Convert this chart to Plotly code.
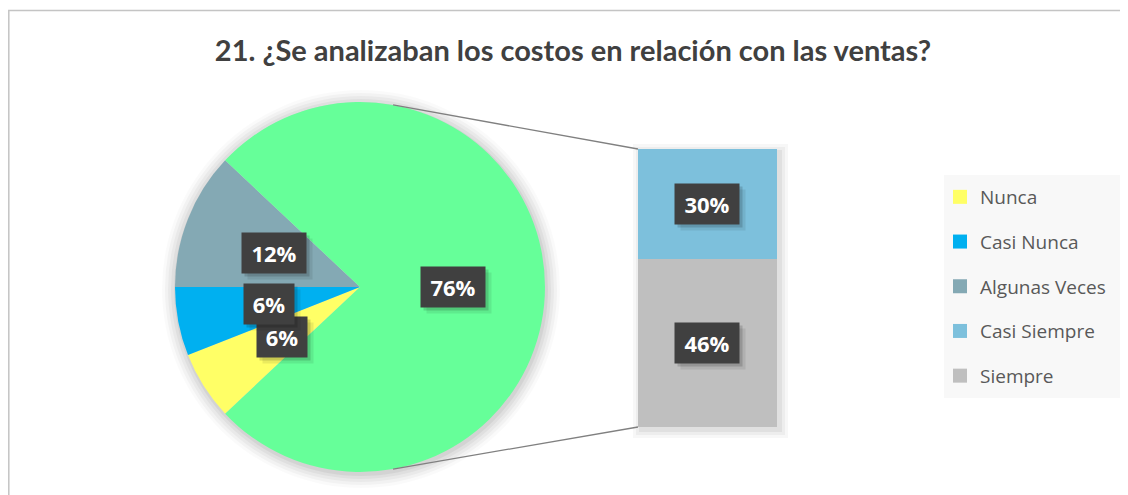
import math
import plotly.graph_objects as go

# ---------------- data ----------------
title_text = "21. ¿Se analizaban los costos en relación con las ventas?"
pie_labels = ["Nunca", "Casi Nunca", "Algunas Veces", "Otro"]
pie_values = [6, 6, 12, 76]
pie_colors = ["#FFFF66", "#00B0F0", "#84A9B4", "#66FF99"]

bar_labels = ["Siempre", "Casi Siempre"]          # bottom -> top
bar_values = [46, 30]
bar_colors = ["#BFBFBF", "#7DC0DC"]

legend_labels = ["Nunca", "Casi Nunca", "Algunas Veces", "Casi Siempre", "Siempre"]
legend_colors = ["#FFFF66", "#00B0F0", "#84A9B4", "#7DC0DC", "#BFBFBF"]

# ---------------- layout geometry (page px) ----------------
PAGE_W, PAGE_H = 1128, 495
OFF = 8                      # page body margin
W, H = PAGE_W - OFF, PAGE_H - OFF
cx, cy, R = 360, 287, 185
bar_x0, bar_x1, bar_y0, bar_y1 = 638, 777, 149, 427


def X(px):
    return (px - OFF) / W


def Y(py):
    return 1 - (py - OFF) / H


fig = go.Figure()

# soft shadow behind the pie
for k, a in [(14, 0.02), (11, 0.03), (8, 0.035), (5, 0.04), (2, 0.05)]:
    fig.add_trace(go.Pie(
        values=[1], labels=["s"], sort=False, textinfo="none", hoverinfo="skip",
        showlegend=False, marker=dict(colors=[f"rgba(0,0,0,{a})"]),
        domain=dict(x=[X(cx - R - k + 1), X(cx + R + k + 1)],
                    y=[Y(cy + R + k + 2), Y(cy - R - k + 2)]),
    ))

# main pie: small slices on the left, "other" slice facing the bar
other_share = pie_values[-1] / sum(pie_values)
start_math = 180 + (1 - other_share) * 360 / 2
fig.add_trace(go.Pie(
    values=pie_values, labels=pie_labels, sort=False, direction="clockwise",
    rotation=90 - start_math, textinfo="none", hoverinfo="label+percent",
    showlegend=False, marker=dict(colors=pie_colors, line=dict(width=0)),
    domain=dict(x=[X(cx - R), X(cx + R)], y=[Y(cy + R), Y(cy - R)]),
))

# stacked bar of the "other" slice
for lab, val, col in zip(bar_labels, bar_values, bar_colors):
    fig.add_trace(go.Bar(x=[0], y=[val], name=lab, marker=dict(color=col, line=dict(width=0)),
                         showlegend=False, hoverinfo="name+y"))

# legend entries
for i, (lab, col) in enumerate(zip(legend_labels, legend_colors)):
    fig.add_trace(go.Scatter(x=[None], y=[None], mode="markers", name=lab,
                             legendgroup=lab, legendrank=i + 1,
                             marker=dict(symbol="square", size=14, color=col)))

# ---------------- labels ----------------
annotations = []


def label_box(x, y, text):
    w = 22 + 14 * len(text)
    common = dict(x=x, y=y, xref="paper", yref="paper", showarrow=False, width=w, height=40,
                  borderpad=0, xanchor="center", yanchor="middle")
    annotations.append(dict(text="", bgcolor="rgba(0,0,0,0.08)", xshift=6, yshift=-6, **common))
    annotations.append(dict(text="", bgcolor="rgba(0,0,0,0.15)", xshift=3, yshift=-3, **common))
    annotations.append(dict(text=f"<b>{text}</b>", bgcolor="#404040",
                            font=dict(family="Open Sans", size=22, color="white"), **common))


tot = sum(pie_values)
ang = start_math
for v in pie_values:
    span = v / tot * 360
    mid = math.radians(ang - span / 2)
    px = cx + 0.5 * R * math.cos(mid)
    py = cy - 0.5 * R * math.sin(mid)
    label_box(X(px), Y(py), f"{round(v / tot * 100)}%")
    ang -= span

btot = sum(bar_values)
acc = 0
for v in bar_values:
    mid = acc + v / 2
    py = bar_y1 - (bar_y1 - bar_y0) * mid / btot
    label_box(X((bar_x0 + bar_x1) / 2), Y(py), f"{round(v / tot * 100)}%")
    acc += v

# ---------------- shapes ----------------
shapes = []
# outer chart border
shapes.append(dict(type="rect", xref="paper", yref="paper", x0=X(8.8), x1=X(1140), y0=Y(10.5), y1=Y(510),
                   line=dict(color="#C4C4C4", width=1.5), fillcolor="rgba(0,0,0,0)", layer="below"))
# legend background
shapes.append(dict(type="rect", xref="paper", yref="paper", x0=X(944), x1=X(1126), y0=Y(175), y1=Y(398),
                   line=dict(width=0), fillcolor="#F8F8F8", layer="below"))
# bar shadow
for k, a in [(8, 0.03), (5, 0.04), (2, 0.05)]:
    shapes.append(dict(type="rect", xref="paper", yref="paper",
                       x0=X(bar_x0 - k + 3), x1=X(bar_x1 + k + 3), y0=Y(bar_y0 - k + 3), y1=Y(bar_y1 + k + 3),
                       line=dict(width=0), fillcolor=f"rgba(0,0,0,{a})", layer="below"))
# connector lines
a = math.radians(79.7)
for sgn, by in [(1, bar_y0), (-1, bar_y1)]:
    px = cx + R * math.cos(a)
    py = cy - sgn * R * math.sin(a)
    shapes.append(dict(type="line", xref="paper", yref="paper", x0=X(px), y0=Y(py), x1=X(bar_x0), y1=Y(by),
                       line=dict(color="#808080", width=1.3)))

fig.update_layout(
    width=W, height=H,
    margin=dict(l=0, r=0, t=0, b=0),
    paper_bgcolor="white", plot_bgcolor="rgba(0,0,0,0)",
    barmode="stack", bargap=0,
    xaxis=dict(domain=[X(bar_x0), X(bar_x1)], range=[-0.5, 0.5], visible=False, fixedrange=True),
    yaxis=dict(domain=[Y(bar_y1), Y(bar_y0)], range=[0, btot], visible=False, fixedrange=True),
    title=dict(text=f"<b>{title_text}</b>", x=X(573), xanchor="center", y=Y(51), yanchor="middle",
               font=dict(family="Lato", size=29, color="#404040")),
    legend=dict(x=X(940), xanchor="left", y=Y(178), yanchor="top", bgcolor="rgba(0,0,0,0)",
                traceorder="grouped", tracegroupgap=17,
                font=dict(family="Open Sans", size=19, color="#595959")),
    annotations=annotations,
    shapes=shapes,
    showlegend=True,
)

fig.write_html("out.html")
